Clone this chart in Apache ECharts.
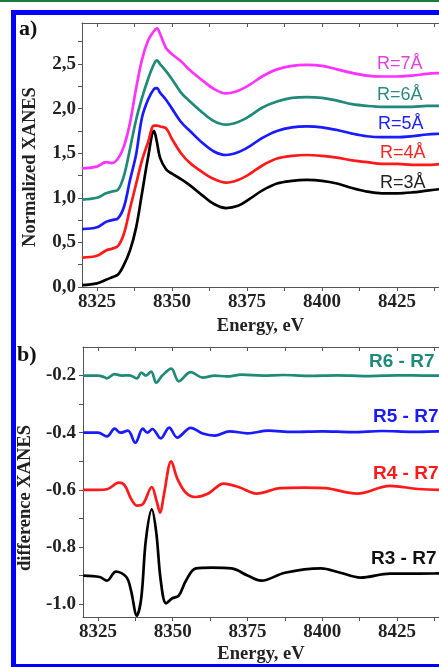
<!DOCTYPE html>
<html lang="en">
<head>
    <meta charset="UTF-8">
    <title>XANES</title>
    <script src="https://cdn.jsdelivr.net/npm/echarts@6/dist/echarts.min.js"></script>
    <style>
        html, body { margin: 0; padding: 0; background: #fff; }
        #container { width: 439px; height: 667px; }
    </style>
</head>
<body>
<div id="container"></div>
<script>
    // panel a: normalized XANES, one shared energy grid
    var energyA = [8320, 8325, 8328, 8330, 8332, 8334, 8336, 8338, 8340, 8342, 8344, 8345, 8346, 8348, 8350,
        8353, 8356, 8360, 8364, 8368, 8372, 8376, 8380, 8385, 8390, 8395, 8400, 8405, 8410, 8415, 8420,
        8425, 8430, 8435, 8440, 8445];
    var r3 = [0.02, 0.04, 0.08, 0.11, 0.14, 0.25, 0.41, 0.66, 1.05, 1.45, 1.75, 1.62, 1.45, 1.32, 1.27,
        1.21, 1.14, 1.03, 0.93, 0.885, 0.91, 0.99, 1.08, 1.16, 1.19, 1.20, 1.19, 1.16, 1.11, 1.07, 1.05,
        1.05, 1.06, 1.08, 1.10, 1.12];
    var r4 = [0.33, 0.35, 0.41, 0.43, 0.46, 0.60, 0.88, 1.15, 1.42, 1.62, 1.81, 1.81, 1.80, 1.78, 1.66,
        1.50, 1.39, 1.29, 1.21, 1.17, 1.20, 1.27, 1.36, 1.44, 1.47, 1.48, 1.47, 1.45, 1.42, 1.40, 1.38,
        1.38, 1.37, 1.37, 1.38, 1.39];
    var r5 = [0.65, 0.67, 0.73, 0.75, 0.77, 0.90, 1.20, 1.48, 1.90, 2.10, 2.22, 2.23, 2.18, 2.10, 2.00,
        1.85, 1.75, 1.62, 1.52, 1.48, 1.51, 1.58, 1.67, 1.75, 1.79, 1.80, 1.79, 1.76, 1.72, 1.69, 1.68,
        1.68, 1.69, 1.71, 1.72, 1.73];
    var r6 = [0.98, 1.00, 1.05, 1.07, 1.09, 1.25, 1.55, 1.87, 2.12, 2.33, 2.50, 2.54, 2.50, 2.42, 2.33,
        2.18, 2.08, 1.96, 1.86, 1.82, 1.85, 1.92, 2.01, 2.08, 2.12, 2.13, 2.12, 2.09, 2.05, 2.03, 2.02,
        2.02, 2.02, 2.03, 2.03, 2.04];
    var r7 = [1.33, 1.35, 1.40, 1.39, 1.44, 1.58, 1.84, 2.22, 2.55, 2.76, 2.87, 2.90, 2.84, 2.68, 2.61,
        2.53, 2.43, 2.32, 2.22, 2.17, 2.20, 2.27, 2.36, 2.44, 2.48, 2.49, 2.48, 2.44, 2.40, 2.37, 2.36,
        2.36, 2.37, 2.39, 2.40, 2.41];

    // panel b: difference spectra, [energy, value]
    var d67 = [[8320, -0.2], [8325, -0.2], [8327, -0.205], [8328, -0.21], [8330.5, -0.195], [8333, -0.2],
        [8335.5, -0.199], [8338, -0.21], [8339.5, -0.19], [8341, -0.2], [8342.8, -0.186], [8344.5, -0.225],
        [8346.5, -0.2], [8349.5, -0.176], [8352, -0.22], [8356, -0.188], [8360, -0.207], [8364, -0.2],
        [8368, -0.203], [8373, -0.197], [8380, -0.2], [8387, -0.198], [8395, -0.201], [8405, -0.199],
        [8415, -0.202], [8425, -0.199], [8435, -0.2], [8445, -0.2]];
    var d57 = [[8320, -0.4], [8325, -0.4], [8328, -0.413], [8330.6, -0.386], [8332.5, -0.4], [8335, -0.393],
        [8337.5, -0.435], [8340, -0.386], [8341.5, -0.4], [8343.2, -0.387], [8346, -0.42], [8348.8, -0.382],
        [8351.5, -0.417], [8356, -0.383], [8360, -0.403], [8364, -0.41], [8369, -0.395], [8375, -0.402],
        [8382, -0.393], [8390, -0.397], [8400, -0.395], [8410, -0.398], [8420, -0.394], [8430, -0.397],
        [8440, -0.395], [8445, -0.396]];
    var d47 = [[8320, -0.6], [8325, -0.6], [8328, -0.598], [8332, -0.575], [8334, -0.585], [8336, -0.63],
        [8338, -0.655], [8340, -0.65], [8343, -0.59], [8344.5, -0.635], [8345.8, -0.68], [8347, -0.62],
        [8349.5, -0.50], [8351.5, -0.56], [8354.4, -0.61], [8357.7, -0.625], [8362, -0.612], [8367, -0.578],
        [8372, -0.59], [8378, -0.613], [8386, -0.594], [8394, -0.592], [8401, -0.594], [8411.7, -0.613],
        [8422.6, -0.586], [8432, -0.597], [8440, -0.6], [8445, -0.6]];
    var d37 = [[8320, -0.9], [8325.6, -0.905], [8328, -0.918], [8331, -0.886], [8334.5, -0.905], [8336, -0.95],
        [8338, -1.04], [8339.5, -0.976], [8341, -0.777], [8343, -0.668], [8344.5, -0.75], [8346, -0.918],
        [8347.8, -0.997], [8349.8, -0.98], [8352, -0.97], [8354.4, -0.918], [8357.7, -0.875], [8363, -0.872],
        [8369.7, -0.875], [8375, -0.9], [8379.6, -0.918], [8387.5, -0.89], [8399.5, -0.875], [8406, -0.89],
        [8412.7, -0.907], [8422.6, -0.893], [8432, -0.893], [8445, -0.892]];

    var xLabels = [8325, 8350, 8375, 8400, 8425];
    var xTicks = [8325, 8337.5, 8350, 8362.5, 8375, 8387.5, 8400, 8412.5, 8425, 8437.5];
    var yLabelsA = [0, 0.5, 1, 1.5, 2, 2.5];
    var yTicksA = [0, 0.25, 0.5, 0.75, 1, 1.25, 1.5, 1.75, 2, 2.25, 2.5, 2.75];
    var yLabelsB = [-1, -0.8, -0.6, -0.4, -0.2];
    var yTicksB = [-1, -0.9, -0.8, -0.7, -0.6, -0.5, -0.4, -0.3, -0.2];

    var zip = function (xs, ys) {
        return xs.map(function (x, i) { return [x, ys[i]]; });
    };

    var axisColor = '#555';
    var tickFont = {color: '#222', fontFamily: 'Liberation Serif', fontWeight: 'bold', fontSize: 19};
    var nameFont = {color: '#222', fontFamily: 'Liberation Serif', fontWeight: 'bold', fontSize: 18.5};

    var bottomAxis = function (grid, gap) {
        return {
            type: 'value', gridIndex: grid, position: 'bottom', min: 8320, max: 8439,
            name: 'Energy, eV', nameLocation: 'middle', nameGap: gap, nameTextStyle: nameFont,
            axisLine: {lineStyle: {color: axisColor, width: 1}},
            axisTick: {customValues: xTicks, length: 4, lineStyle: {color: axisColor}},
            axisLabel: Object.assign({
                customValues: xLabels, margin: 6,
                formatter: function (v) { return String(v); }
            }, tickFont),
            splitLine: {show: false}
        };
    };
    var topAxis = function (grid) {
        return {
            type: 'value', gridIndex: grid, position: 'top', min: 8320, max: 8439,
            axisLine: {lineStyle: {color: axisColor, width: 1}},
            axisTick: {customValues: xTicks, inside: true, length: 4, lineStyle: {color: axisColor}},
            axisLabel: {show: false},
            splitLine: {show: false}
        };
    };
    var line = function (name, data, color, xi, yi) {
        return {
            name: name, type: 'line', data: data, xAxisIndex: xi, yAxisIndex: yi,
            showSymbol: false, smooth: 0.35, lineStyle: {color: color, width: 2.7}
        };
    };
    var label = function (text, x, y, color, weight, size) {
        return {
            type: 'text', x: x, y: y, z: 100,
            style: {
                text: text, fill: color, fontFamily: 'Liberation Sans', fontSize: size,
                fontWeight: weight, verticalAlign: 'middle'
            }
        };
    };

    var myChart = echarts.init(document.getElementById('container'));
    myChart.setOption({
        animation: false,
        backgroundColor: '#fff',
        grid: [
            {left: 82, top: 23, right: -2, height: 264},
            {left: 83, top: 347, right: -2, height: 270}
        ],
        xAxis: [bottomAxis(0, 30), topAxis(0), bottomAxis(1, 28), topAxis(1)],
        yAxis: [
            {
                type: 'value', gridIndex: 0, min: 0, max: 2.96,
                name: 'Normalized XANES', nameLocation: 'middle', nameGap: 42,
                nameTextStyle: Object.assign({padding: [0, 24, 0, 0]}, nameFont),
                axisLine: {show: true, lineStyle: {color: axisColor, width: 1}},
                axisTick: {show: true, customValues: yTicksA, length: 4, lineStyle: {color: axisColor}},
                axisLabel: Object.assign({
                    customValues: yLabelsA, margin: 6,
                    formatter: function (v) { return v.toFixed(1).replace('.', ','); }
                }, tickFont),
                splitLine: {show: false}
            },
            {
                type: 'value', gridIndex: 1, min: -1.045, max: -0.1,
                name: 'difference XANES', nameLocation: 'middle', nameGap: 48,
                nameTextStyle: Object.assign({padding: [0, 32, 0, 0]}, nameFont),
                axisLine: {show: true, lineStyle: {color: axisColor, width: 1}},
                axisTick: {show: true, customValues: yTicksB, length: 4, lineStyle: {color: axisColor}},
                axisLabel: Object.assign({
                    customValues: yLabelsB, margin: 7,
                    formatter: function (v) { return v.toFixed(1); }
                }, tickFont),
                splitLine: {show: false}
            }
        ],
        series: [
            line('R=3Å', zip(energyA, r3), '#000000', 0, 0),
            line('R=4Å', zip(energyA, r4), '#ff1a1a', 0, 0),
            line('R=5Å', zip(energyA, r5), '#1a1aff', 0, 0),
            line('R=6Å', zip(energyA, r6), '#1f8a78', 0, 0),
            line('R=7Å', zip(energyA, r7), '#ff33ff', 0, 0),
            line('R6 - R7', d67, '#1f8a78', 2, 1),
            line('R5 - R7', d57, '#1a1aff', 2, 1),
            line('R4 - R7', d47, '#ff1a1a', 2, 1),
            line('R3 - R7', d37, '#000000', 2, 1)
        ],
        graphic: [
            {type: 'rect', shape: {x: 0, y: 0, width: 439, height: 2}, style: {fill: '#1a7a3a'}},
            {type: 'rect', shape: {x: 11, y: 10, width: 440, height: 5}, style: {fill: '#0000ff'}},
            {type: 'rect', shape: {x: 11, y: 10, width: 5, height: 660}, style: {fill: '#0000ff'}},
            {type: 'rect', shape: {x: 11, y: 664, width: 440, height: 5}, style: {fill: '#0000ff'}},
            {
                type: 'text', x: 19, y: 29,
                style: {text: 'a)', fill: '#111', fontFamily: 'Liberation Serif', fontWeight: 'bold', fontSize: 22, verticalAlign: 'middle'}
            },
            {
                type: 'text', x: 17, y: 355,
                style: {text: 'b)', fill: '#111', fontFamily: 'Liberation Serif', fontWeight: 'bold', fontSize: 22, verticalAlign: 'middle'}
            },
            label('R=7Å', 377, 64, '#e040e0', 'normal', 18),
            label('R=6Å', 377, 95, '#2a8a80', 'normal', 18),
            label('R=5Å', 378, 124, '#2020ff', 'normal', 18),
            label('R=4Å', 380, 153, '#ff2020', 'normal', 18),
            label('R=3Å', 380, 183, '#222', 'normal', 18),
            label('R6 - R7', 369, 362, '#1f8a78', 'bold', 19),
            label('R5 - R7', 373, 417, '#1a1aff', 'bold', 19),
            label('R4 - R7', 373, 474, '#ff1a1a', 'bold', 19),
            label('R3 - R7', 371, 559, '#111', 'bold', 19)
        ]
    });
</script>
</body>
</html>
